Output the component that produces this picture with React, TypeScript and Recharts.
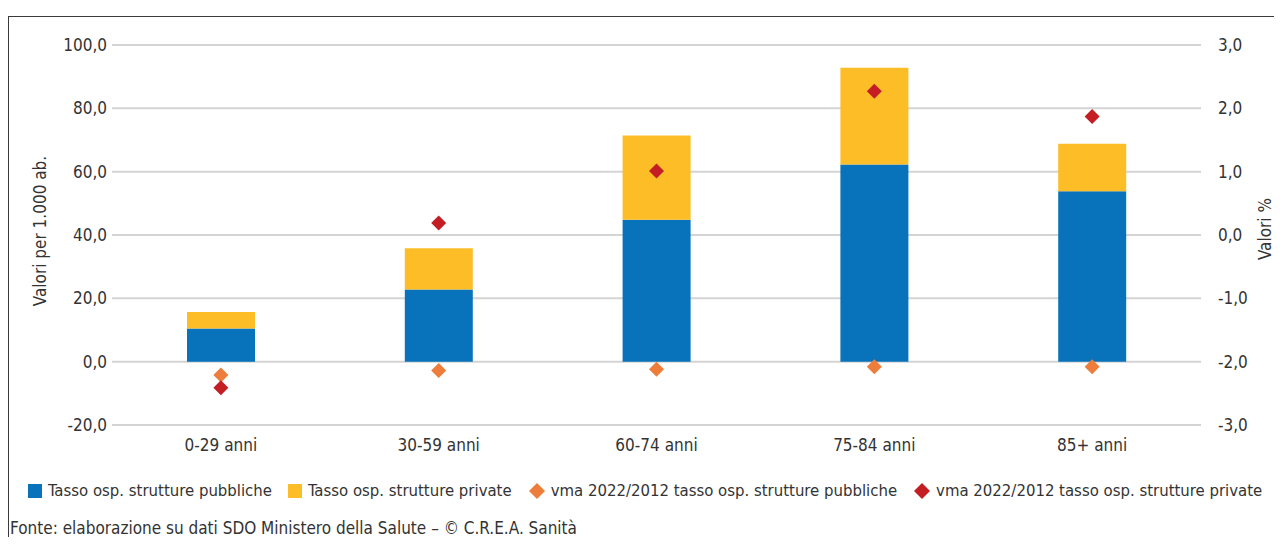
import { Bar, CartesianGrid, ComposedChart, Scatter, XAxis, YAxis } from 'recharts';

const categorie = ['0-29 anni', '30-59 anni', '60-74 anni', '75-84 anni', '85+ anni'];
const tassoPubbliche = [10.5, 22.8, 44.8, 62.3, 53.8];
const tassoPrivate = [5.2, 13.0, 26.6, 30.5, 15.0];
const vmaPubbliche = [-2.21, -2.14, -2.12, -2.08, -2.08];
const vmaPrivate = [-2.41, 0.19, 1.01, 2.27, 1.87];

const ticksSinistra = [-20, 0, 20, 40, 60, 80, 100];
const ticksDestra = [-3, -2, -1, 0, 1, 2, 3];

const BLU = '#0873ba';
const GIALLO = '#fdbd27';
const ARANCIO = '#ee7d3b';
const ROSSO = '#c41e24';
const FONT = "'Liberation Sans Narrow', 'DejaVu Sans Condensed', 'Roboto', sans-serif";

const data = categorie.map((nome, i) => ({
  nome,
  pubbliche: tassoPubbliche[i],
  private: tassoPrivate[i],
  vmaPub: vmaPubbliche[i],
  vmaPriv: vmaPrivate[i]
}));

const legenda = [
  { label: 'Tasso osp. strutture pubbliche', color: BLU, tipo: 'quadrato' },
  { label: 'Tasso osp. strutture private', color: GIALLO, tipo: 'quadrato' },
  { label: 'vma 2022/2012 tasso osp. strutture pubbliche', color: ARANCIO, tipo: 'rombo' },
  { label: 'vma 2022/2012 tasso osp. strutture private', color: ROSSO, tipo: 'rombo' }
];

const formatta = (v: number) => v.toFixed(1).replace('.', ',');

function Rombo(color: string) {
  return (props: any) => {
    const { cx, cy } = props;
    const r = 7.5;
    return <path d={`M${cx},${cy - r}L${cx + r},${cy}L${cx},${cy + r}L${cx - r},${cy}Z`} fill={color} />;
  };
}

export default function App() {
  const tick = { fill: '#333', fontSize: 17, fontFamily: FONT };

  return (
    <div style={{ position: 'relative', width: 1282, height: 545, fontFamily: FONT, margin: -8 }}>
      <div
        style={{
          position: 'absolute',
          left: 8,
          top: 16,
          width: 1290,
          height: 540,
          borderLeft: '1.5px solid #3a3a3a',
          borderTop: '1.5px solid #3a3a3a'
        }}
      />
      <div style={{ position: 'absolute', left: 0, top: 0 }}>
        <ComposedChart width={1282} height={470} data={data} margin={{ top: 45, right: 0, bottom: 0, left: 0 }}>
          <CartesianGrid vertical={false} stroke="#d4d4d4" strokeWidth={2} yAxisId="sx" />
          <XAxis
            dataKey="nome"
            axisLine={false}
            tickLine={false}
            tickSize={0}
            tickMargin={14}
            tick={tick}
            height={45}
          />
          <YAxis
            yAxisId="sx"
            domain={[-20, 100]}
            ticks={ticksSinistra}
            tickFormatter={formatta}
            axisLine={false}
            tickLine={false}
            tickSize={0}
            tickMargin={5}
            tick={tick}
            width={112}
            label={{
              value: 'Valori per 1.000 ab.',
              angle: -90,
              position: 'center',
              dx: -16,
              dy: -4,
              style: { fill: '#333', fontSize: 17, fontFamily: FONT }
            }}
          />
          <YAxis
            yAxisId="dx"
            orientation="right"
            domain={[-3, 3]}
            ticks={ticksDestra}
            tickFormatter={formatta}
            axisLine={false}
            tickLine={false}
            tickSize={0}
            tickMargin={17}
            tick={tick}
            width={81}
            label={{
              value: 'Valori %',
              angle: -90,
              position: 'center',
              dx: 23,
              dy: -6,
              style: { fill: '#333', fontSize: 17, fontFamily: FONT }
            }}
          />
          <Bar yAxisId="sx" dataKey="pubbliche" stackId="a" fill={BLU} barSize={68} isAnimationActive={false} />
          <Bar yAxisId="sx" dataKey="private" stackId="a" fill={GIALLO} barSize={68} isAnimationActive={false} />
          <Scatter yAxisId="dx" dataKey="vmaPub" fill={ARANCIO} shape={Rombo(ARANCIO)} isAnimationActive={false} />
          <Scatter yAxisId="dx" dataKey="vmaPriv" fill={ROSSO} shape={Rombo(ROSSO)} isAnimationActive={false} />
        </ComposedChart>
      </div>
      <div
        style={{
          position: 'absolute',
          left: 28,
          top: 481,
          display: 'flex',
          alignItems: 'center',
          fontSize: 16.6,
          color: '#333',
          whiteSpace: 'nowrap'
        }}
      >
        {legenda.map((item) => (
          <div key={item.label} style={{ display: 'flex', alignItems: 'center', marginRight: 16 }}>
            {item.tipo === 'quadrato' ? (
              <span style={{ display: 'inline-block', width: 14, height: 14, background: item.color, marginRight: 6 }} />
            ) : (
              <svg width={18} height={18} style={{ marginRight: 5 }}>
                <path d="M9,1L17,9L9,17L1,9Z" fill={item.color} />
              </svg>
            )}
            <span>{item.label}</span>
          </div>
        ))}
      </div>
      <div style={{ position: 'absolute', left: 10, top: 518, fontSize: 17, color: '#333', whiteSpace: 'nowrap' }}>
        Fonte: elaborazione su dati SDO Ministero della Salute – © C.R.E.A. Sanità
      </div>
    </div>
  );
}
